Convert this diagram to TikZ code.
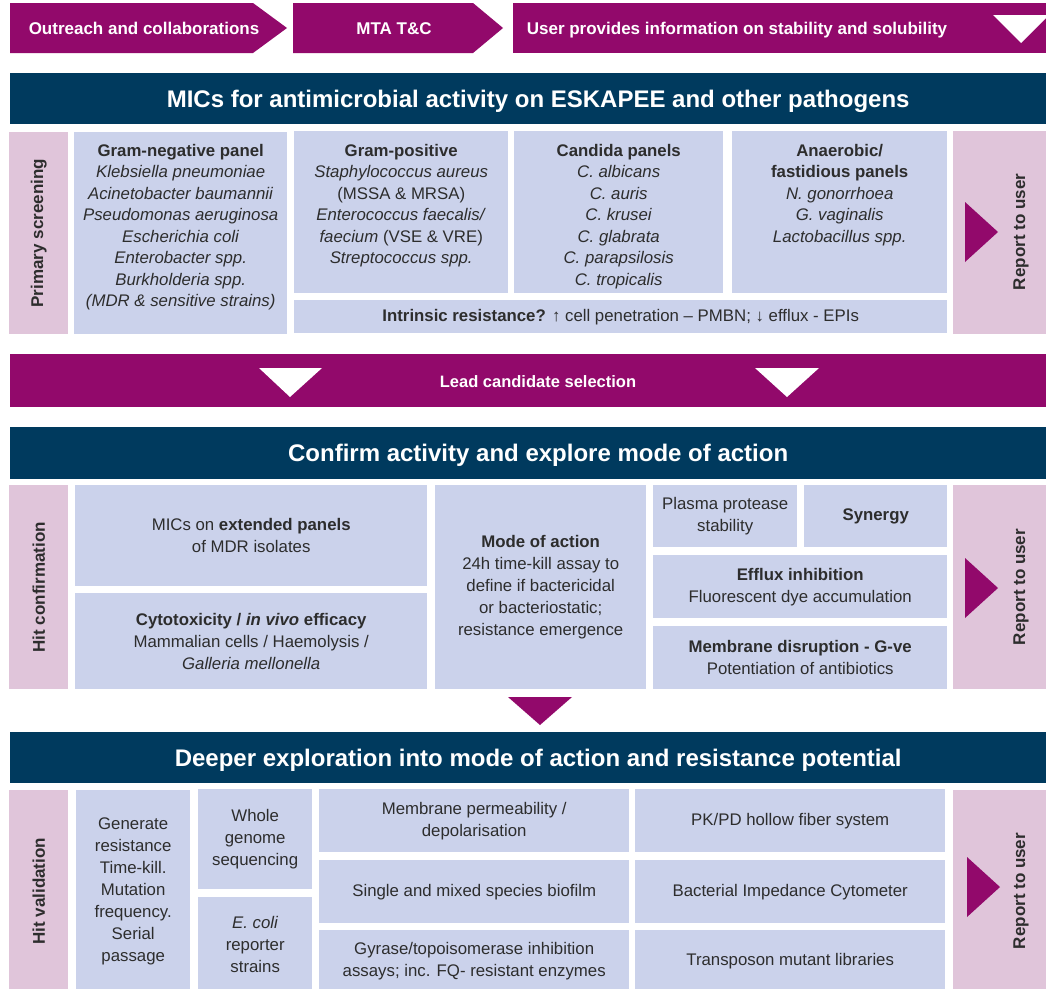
\documentclass[tikz,border=0pt]{standalone}
\usepackage{fontspec}
\setmainfont{Liberation Sans}
\usetikzlibrary{positioning}
\definecolor{plum}{RGB}{146,9,107}
\definecolor{navy}{RGB}{0,58,94}
\definecolor{cellblue}{RGB}{203,210,235}
\definecolor{sidepink}{RGB}{224,197,218}
\definecolor{ink}{RGB}{45,45,45}
\tikzset{
	node_box/.style = {
		anchor=north west,
		inner sep=0pt,
		align=center,
		text=ink,
		font=\fontsize{16.8}{22}\selectfont
	},
	node_cell/.style = {
		node_box,
		fill=cellblue
	},
	node_side/.style = {
		node_box,
		fill=sidepink
	},
	node_head/.style = {
		node_box,
		fill=navy,
		text=white,
		text height=17pt,
		text depth=0pt,
		font=\bfseries\fontsize{24}{28}\selectfont
	},
	node_flow/.style = {
		align=center,
		inner sep=0pt,
		text=white,
		text height=12pt,
		text depth=0pt,
		font=\bfseries\fontsize{17}{20}\selectfont
	},
	node_label/.style = {
		rotate=90,
		inner sep=0pt,
		text=ink,
		font=\bfseries\fontsize{17}{20}\selectfont
	},
	node_list/.style = {
		anchor=north,
		align=center,
		inner sep=0pt,
		text=ink,
		font=\fontsize{16.8}{21.5}\selectfont
	},
	node_plum/.style = {
		fill=plum
	},
}
\begin{document}
\begin{tikzpicture}[x=1pt, y=-1pt]
\useasboundingbox (0,0) rectangle (1046,988);
\clip (0,0) rectangle (1046,988);
\fill[white] (0,0) rectangle (1046,988);

\fill[node_plum] (10,3) -- (253,3) -- (287,28) -- (253,53) -- (10,53) -- cycle;
\fill[node_plum] (293,3) -- (473,3) -- (503,28) -- (473,53) -- (293,53) -- cycle;
\fill[node_plum] (513,3) rectangle (1066,53);
\fill[white] (993,15) -- (1049,15) -- (1021,43) -- cycle;
\node[node_flow] (outreach) at (144,28) {Outreach and collaborations};
\node[node_flow] (mta) at (394,28) {MTA T\&C};
\node[node_flow] (userinfo) at (737,28) {User provides information on stability and solubility};

\node[node_head, minimum width=1056pt, minimum height=51pt] (head_mic) at (10,73) {MICs for antimicrobial activity on ESKAPEE and other pathogens};

\node[node_side, minimum width=59pt, minimum height=202pt] (prim) at (9,132) {};
\node[node_label] (prim_txt) at (prim.center) {Primary screening};
\node[node_cell, minimum width=213pt, minimum height=202pt] (gneg) at (74,132) {};
\node[node_list, below=12pt of gneg.north] (gneg_txt) {\textbf{Gram-negative panel}\\
	\textit{Klebsiella pneumoniae}\\
	\textit{Acinetobacter baumannii}\\
	\textit{Pseudomonas aeruginosa}\\
	\textit{Escherichia coli}\\
	\textit{Enterobacter spp.}\\
	\textit{Burkholderia spp.}\\
	\textit{(MDR \& sensitive strains)}};
\node[node_cell, minimum width=214pt, minimum height=162pt] (gpos) at (294,131) {};
\node[node_list, below=13pt of gpos.north] (gpos_txt) {\textbf{Gram-positive}\\
	\textit{Staphylococcus aureus}\\
	(MSSA \& MRSA)\\
	\textit{Enterococcus faecalis/}\\
	\textit{faecium} (VSE \& VRE)\\
	\textit{Streptococcus spp.}};
\node[node_cell, minimum width=209pt, minimum height=162pt] (candida) at (514,131) {};
\node[node_list, below=13pt of candida.north] (candida_txt) {\textbf{Candida panels}\\
	\textit{C. albicans}\\
	\textit{C. auris}\\
	\textit{C. krusei}\\
	\textit{C. glabrata}\\
	\textit{C. parapsilosis}\\
	\textit{C. tropicalis}};
\node[node_cell, minimum width=215pt, minimum height=162pt] (anaer) at (732,131) {};
\node[node_list, below=13pt of anaer.north] (anaer_txt) {\textbf{Anaerobic/}\\
	\textbf{fastidious panels}\\
	\textit{N. gonorrhoea}\\
	\textit{G. vaginalis}\\
	\textit{Lactobacillus spp.}};
\node[node_cell, minimum width=653pt, minimum height=33pt] (intrinsic) at (294,300) {\textbf{Intrinsic resistance?} ↑ cell penetration – PMBN; ↓ efflux - EPIs};
\node[node_side, minimum width=113pt, minimum height=203pt] (rep_a) at (953,131) {};
\fill[node_plum] (965,202) -- (998,232) -- (965,262) -- cycle;
\node[node_label] (rep_a_txt) at (1021,232) {Report to user};

\node[node_box, fill=plum, minimum width=1056pt, minimum height=53pt] (lead) at (10,354) {};
\fill[white] (259,368) -- (322,368) -- (290,397) -- cycle;
\fill[white] (755,368) -- (819,368) -- (787,397) -- cycle;
\node[node_flow, font=\bfseries\fontsize{16.5}{20}\selectfont] (lead_txt) at (538,381) {Lead candidate selection};

\node[node_head, minimum width=1056pt, minimum height=52pt] (head_conf) at (10,427) {Confirm activity and explore mode of action};

\node[node_side, minimum width=59pt, minimum height=204pt] (hitc) at (9,485) {};
\node[node_label] (hitc_txt) at (hitc.center) {Hit confirmation};
\node[node_cell, minimum width=352pt, minimum height=101pt] (micext) at (75,485) {MICs on \textbf{extended panels}\\of MDR isolates};
\node[node_cell, minimum width=352pt, minimum height=96pt] (cyto) at (75,593) {\textbf{Cytotoxicity / \textit{in vivo} efficacy}\\Mammalian cells / Haemolysis /\\\textit{Galleria mellonella}};
\node[node_cell, minimum width=211pt, minimum height=204pt] (moa) at (435,485) {\textbf{Mode of action}\\24h time-kill assay to\\define if bactericidal\\or bacteriostatic;\\resistance emergence};
\node[node_cell, minimum width=144pt, minimum height=62pt] (plasma) at (653,485) {Plasma protease\\stability};
\node[node_cell, minimum width=143pt, minimum height=62pt] (synergy) at (804,485) {\textbf{Synergy}};
\node[node_cell, minimum width=294pt, minimum height=63pt] (efflux) at (653,555) {\textbf{Efflux inhibition}\\Fluorescent dye accumulation};
\node[node_cell, minimum width=294pt, minimum height=63pt] (memdis) at (653,626) {\textbf{Membrane disruption - G-ve}\\Potentiation of antibiotics};
\node[node_side, minimum width=113pt, minimum height=204pt] (rep_b) at (953,485) {};
\fill[node_plum] (965,558) -- (998,588) -- (965,618) -- cycle;
\node[node_label] (rep_b_txt) at (1021,587) {Report to user};
\fill[node_plum] (508,697) -- (572,697) -- (540,725) -- cycle;

\node[node_head, minimum width=1056pt, minimum height=51pt] (head_deep) at (10,732) {Deeper exploration into mode of action and resistance potential};

\node[node_side, minimum width=59pt, minimum height=202pt] (hitv) at (9,790) {};
\node[node_label] (hitv_txt) at (hitv.center) {Hit validation};
\node[node_cell, minimum width=114pt, minimum height=202pt] (genres) at (76,790) {Generate\\resistance\\Time-kill.\\Mutation\\frequency.\\Serial\\passage};
\node[node_cell, minimum width=114pt, minimum height=100pt] (wgs) at (198,789) {Whole\\genome\\sequencing};
\node[node_cell, minimum width=114pt, minimum height=95pt] (ecoli) at (198,897) {\textit{E. coli}\\reporter\\strains};
\node[node_cell, minimum width=310pt, minimum height=63pt] (memperm) at (319,789) {Membrane permeability /\\depolarisation};
\node[node_cell, minimum width=310pt, minimum height=63pt] (biofilm) at (319,860) {Single and mixed species biofilm};
\node[node_cell, minimum width=310pt, minimum height=62pt] (gyrase) at (319,930) {Gyrase/topoisomerase inhibition\\assays; inc. FQ- resistant enzymes};
\node[node_cell, minimum width=310pt, minimum height=63pt] (pkpd) at (635,789) {PK/PD hollow fiber system};
\node[node_cell, minimum width=310pt, minimum height=63pt] (impedance) at (635,860) {Bacterial Impedance Cytometer};
\node[node_cell, minimum width=310pt, minimum height=62pt] (transposon) at (635,930) {Transposon mutant libraries};
\node[node_side, minimum width=113pt, minimum height=202pt] (rep_c) at (953,790) {};
\fill[node_plum] (967,857) -- (1000,887) -- (967,917) -- cycle;
\node[node_label] (rep_c_txt) at (1021,891) {Report to user};
\end{tikzpicture}
\end{document}
